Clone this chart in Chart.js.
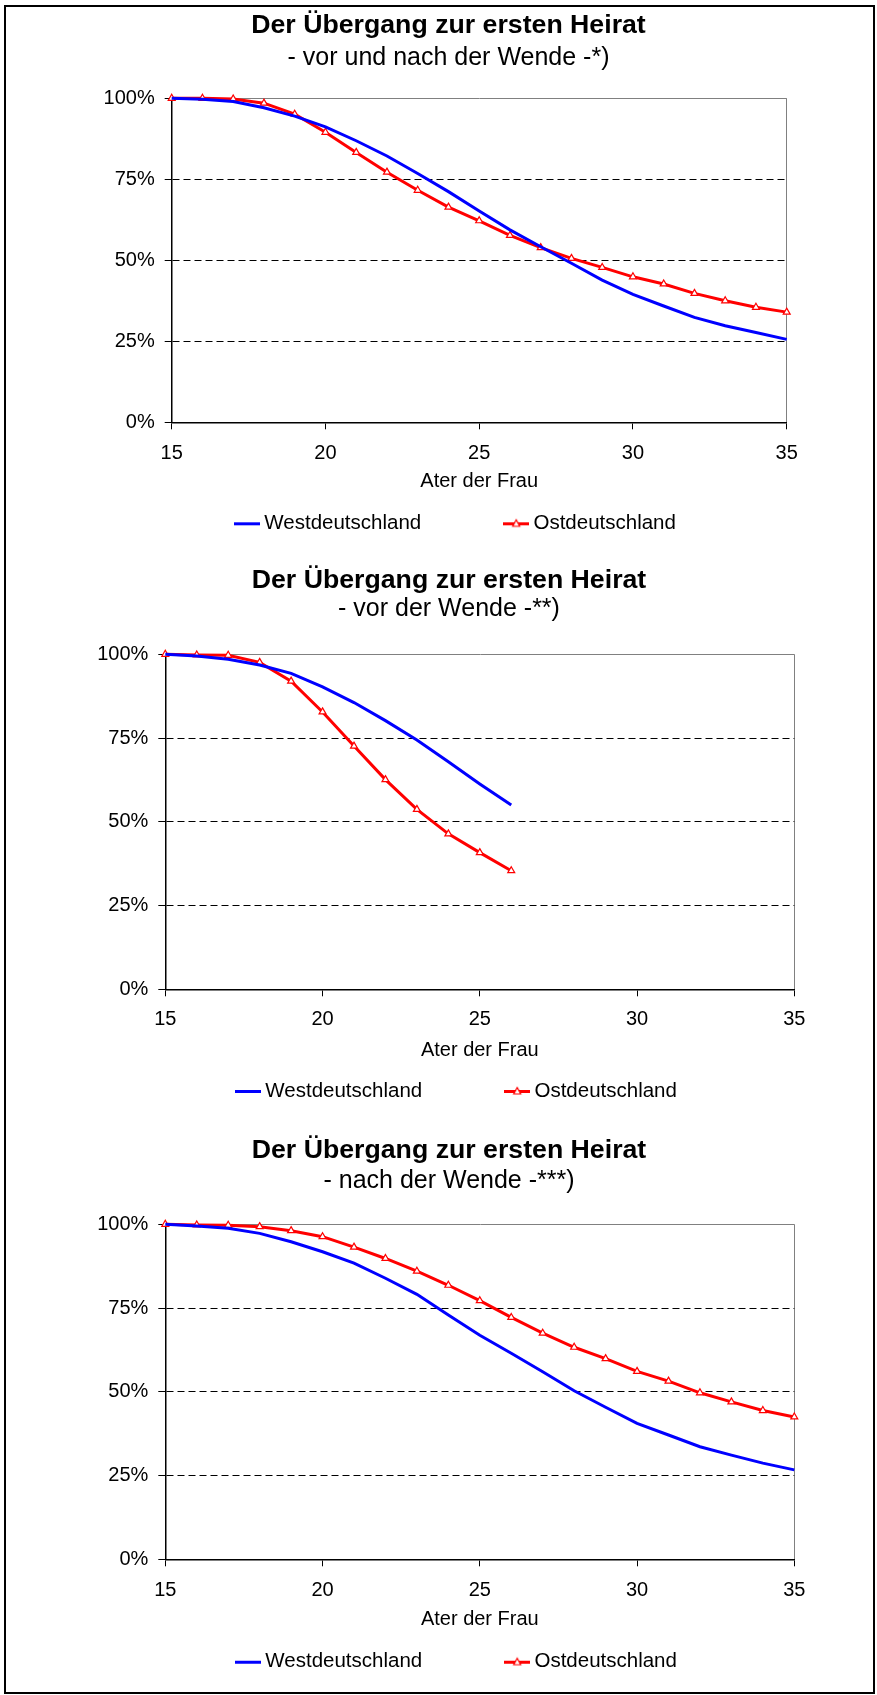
<!DOCTYPE html>
<html lang="de">
<head>
<meta charset="utf-8">
<title>Der Übergang zur ersten Heirat</title>
<script src="https://cdn.jsdelivr.net/npm/chart.js@4.4.1/dist/chart.umd.min.js"></script>
<style>
  html, body { margin: 0; padding: 0; background: #fff; }
  #page { position: relative; width: 877px; height: 1695px; overflow: hidden; background: #fff; }
  #frame { position: absolute; left: 4px; top: 5px; width: 871px; height: 1689px;
           border: 2px solid #000; box-sizing: border-box; pointer-events: none; }
  .panel { position: absolute; left: 0; width: 877px; }
  .panel canvas { display: block; }
</style>
</head>
<body>
<div id="page">
  <div class="panel" style="top:0px;height:620px"><canvas id="c1" width="877" height="620"></canvas></div>
  <div class="panel" style="top:550px;height:640px"><canvas id="c2" width="877" height="640"></canvas></div>
  <div class="panel" style="top:1120px;height:640px"><canvas id="c3" width="877" height="640"></canvas></div>
  <div id="frame"></div>
</div>
<script>
// ---- data -------------------------------------------------------------
const titleText = 'Der Übergang zur ersten Heirat';
const subtitles = ['- vor und nach der Wende -*)', '- vor der Wende -**)', '- nach der Wende -***)'];
const xAxisTitle = 'Ater der Frau';
const seriesNames = ['Westdeutschland', 'Ostdeutschland'];
const yTickValues = [0, 25, 50, 75, 100];
const xTickValues = [15, 20, 25, 30, 35];

// age of the woman (years)
const ages = [15, 16, 17, 18, 19, 20, 21, 22, 23, 24, 25, 26, 27, 28, 29, 30, 31, 32, 33, 34, 35];
const agesBefore = [15, 16, 17, 18, 19, 20, 21, 22, 23, 24, 25, 26];

// share still unmarried, in percent
const westAll  = [100, 99.7, 99.0, 97.1, 94.5, 91.2, 86.9, 82.2, 76.8, 71.2, 65.2, 59.4, 54.2, 49.1, 43.9, 39.5, 35.9, 32.4, 29.8, 27.7, 25.6];
const eastAll  = [100, 100, 99.8, 98.5, 95.1, 89.5, 83.3, 77.2, 71.6, 66.4, 62.2, 57.7, 53.9, 50.6, 47.8, 44.9, 42.7, 39.8, 37.5, 35.5, 34.0];

const westBefore = [100, 99.5, 98.5, 96.8, 94.3, 90.3, 85.6, 80.2, 74.4, 67.9, 61.3, 55.0];
const eastBefore = [100, 99.8, 99.7, 97.6, 92.0, 82.8, 72.6, 62.6, 53.7, 46.4, 40.8, 35.4];

const westAfter = [100, 99.5, 98.8, 97.3, 94.8, 91.8, 88.4, 83.9, 79.1, 72.9, 66.9, 61.5, 56.0, 50.3, 45.4, 40.6, 37.1, 33.6, 31.1, 28.7, 26.7];
const eastAfter = [100, 99.8, 99.7, 99.3, 98.1, 96.3, 93.2, 89.8, 86.0, 81.8, 77.2, 72.2, 67.5, 63.3, 59.9, 56.1, 53.2, 49.7, 47.0, 44.4, 42.5];

// ---- styling ----------------------------------------------------------
const BLUE = '#0000FF';
const RED = '#FF0000';
const FONT = "'Liberation Sans', Arial, Helvetica, sans-serif";
Chart.defaults.font.family = FONT;
Chart.defaults.color = '#000';

const TITLE_SIZE = 26.7;
const SUBTITLE_SIZE = 25;
const LABEL_SIZE = 20;
const LEGEND_SIZE = 20.5;
const LEGEND_PAD = 88;
const TICK_LEN = 7;
const Y_AXIS_W = 100;
const X_AXIS_H = 75;

// small legend swatches: a line, optionally with the triangle marker
function swatch(color, withMarker) {
  const c = document.createElement('canvas');
  c.width = 26; c.height = 12;
  const g = c.getContext('2d');
  g.fillStyle = color;
  g.fillRect(0, 5, 26, 3);
  if (withMarker) {
    g.beginPath();
    g.moveTo(13, 2.5); g.lineTo(16.5, 9); g.lineTo(9.5, 9); g.closePath();
    g.fillStyle = '#fff'; g.fill();
    g.strokeStyle = color; g.lineWidth = 1.2; g.stroke();
  }
  return c;
}
const swatches = [swatch(BLUE, false), swatch(RED, true)];

// puts the legend row at a fixed spot below the axis title
const legendPlacement = {
  id: 'legendPlacement',
  afterLayout(chart, args, opts) {
    const lg = chart.legend;
    if (!lg) return;
    const h = lg.bottom - lg.top;
    const w = lg.right - lg.left;
    lg.top = opts.top; lg.bottom = opts.top + h;
    lg.left = opts.centerX - w / 2; lg.right = opts.centerX + w / 2;
  }
};

function buildChart(canvasId, subtitle, xs, west, east, box) {
  const W = document.getElementById(canvasId).width;
  const padL = box.left - Y_AXIS_W;
  const padR = W - 2 * box.titleX + padL;
  const y2Width = 2 * box.titleX - padL - box.right;
  const titleLH = TITLE_SIZE * 1.2, subLH = SUBTITLE_SIZE * 1.2, lblLH = LABEL_SIZE * 1.2;
  const titlePadTop = box.titleY - titleLH / 2;
  const subPadTop = box.subtitleY - subLH / 2 - (box.titleY + titleLH / 2);
  const subPadBottom = box.top - box.subtitleY - subLH / 2;
  const tickPad = box.tickY - box.bottom - lblLH / 2 - TICK_LEN;
  const xTitlePadBottom = box.bottom + X_AXIS_H - lblLH / 2 - box.axisTitleY;
  const legendHeight = LEGEND_SIZE + LEGEND_PAD + 10;
  const padBottom = box.height - (box.bottom + X_AXIS_H + legendHeight);

  return new Chart(document.getElementById(canvasId), {
    type: 'line',
    plugins: [legendPlacement],
    data: {
      datasets: [
        {
          label: seriesNames[0],
          data: xs.map((a, i) => ({ x: a, y: west[i] })),
          yAxisID: 'y',
          borderColor: BLUE,
          backgroundColor: BLUE,
          borderWidth: 3,
          pointRadius: 0,
          pointHoverRadius: 0,
          tension: 0,
          fill: false,
          clip: false
        },
        {
          label: seriesNames[1],
          data: xs.map((a, i) => ({ x: a, y: east[i] })),
          yAxisID: 'y',
          borderColor: RED,
          backgroundColor: RED,
          borderWidth: 3,
          pointStyle: 'triangle',
          pointRadius: 4,
          pointBorderWidth: 1.2,
          pointBackgroundColor: '#fff',
          pointBorderColor: RED,
          tension: 0,
          fill: false,
          clip: false
        }
      ]
    },
    options: {
      responsive: false,
      animation: false,
      devicePixelRatio: 1,
      events: [],
      layout: { padding: { left: padL, right: padR, top: 0, bottom: padBottom } },
      plugins: {
        legendPlacement: { top: box.legendY - LEGEND_SIZE / 2 - LEGEND_PAD, centerX: box.legendX },
        title: {
          display: true,
          text: titleText,
          color: '#000',
          font: { size: TITLE_SIZE, weight: 'bold', family: FONT, lineHeight: 1.2 },
          padding: { top: titlePadTop, bottom: 0 }
        },
        subtitle: {
          display: true,
          text: subtitle,
          color: '#000',
          font: { size: SUBTITLE_SIZE, weight: 'normal', family: FONT, lineHeight: 1.2 },
          padding: { top: subPadTop, bottom: subPadBottom }
        },
        legend: {
          display: true,
          position: 'bottom',
          align: 'center',
          labels: {
            usePointStyle: true,
            pointStyleWidth: 14,
            padding: LEGEND_PAD,
            color: '#000',
            font: { size: LEGEND_SIZE, family: FONT },
            generateLabels: (chart) => chart.data.datasets.map((ds, i) => ({
              text: ds.label,
              datasetIndex: i,
              hidden: false,
              fillStyle: ds.borderColor,
              strokeStyle: ds.borderColor,
              lineWidth: 0,
              fontColor: '#000',
              pointStyle: swatches[i]
            }))
          }
        },
        tooltip: { enabled: false }
      },
      scales: {
        x: {
          type: 'linear',
          position: 'bottom',
          min: 15,
          max: 35,
          afterBuildTicks: (scale) => { scale.ticks = xTickValues.map(v => ({ value: v })); },
          afterFit: (scale) => { scale.height = X_AXIS_H; },
          ticks: {
            padding: tickPad,
            maxRotation: 0,
            autoSkip: false,
            color: '#000',
            font: { size: LABEL_SIZE, family: FONT }
          },
          grid: {
            drawOnChartArea: true,
            drawTicks: true,
            tickLength: TICK_LEN,
            tickColor: '#000',
            tickWidth: 1,
            tickBorderDash: [],
            lineWidth: 1,
            color: (ctx) => (ctx.tick && ctx.tick.value === 35) ? '#808080' : 'rgba(0,0,0,0)'
          },
          border: { display: true, color: '#000', width: 1.5 },
          title: {
            display: true,
            text: xAxisTitle,
            color: '#000',
            font: { size: LABEL_SIZE, family: FONT, lineHeight: 1.2 },
            padding: { top: 0, bottom: xTitlePadBottom }
          }
        },
        y: {
          type: 'linear',
          position: 'left',
          min: 0,
          max: 100,
          afterBuildTicks: (scale) => { scale.ticks = yTickValues.map(v => ({ value: v })); },
          afterFit: (scale) => { scale.width = Y_AXIS_W; },
          ticks: {
            padding: 10,
            color: '#000',
            font: { size: LABEL_SIZE, family: FONT },
            callback: (v) => v + '%'
          },
          grid: {
            drawOnChartArea: true,
            drawTicks: true,
            tickLength: TICK_LEN,
            tickColor: '#000',
            tickWidth: 1,
            tickBorderDash: [],
            lineWidth: 1,
            color: (ctx) => {
              const v = ctx.tick ? ctx.tick.value : -1;
              if (v === 0) return 'rgba(0,0,0,0)';
              if (v === 100) return '#808080';
              return '#000';
            }
          },
          border: {
            display: true,
            color: '#000',
            width: 1.5,
            dash: (ctx) => (ctx.tick && ctx.tick.value > 0 && ctx.tick.value < 100) ? [7, 4] : []
          }
        },
        // empty right-hand strip that keeps the titles centred on the page
        y2: {
          type: 'linear',
          position: 'right',
          display: true,
          min: 0,
          max: 100,
          afterFit: (scale) => { scale.width = y2Width; },
          ticks: { display: false },
          grid: { display: false, drawTicks: false },
          border: { display: false }
        }
      }
    }
  });
}

// panel geometry (pixels within each canvas)
buildChart('c1', subtitles[0], ages, westAll, eastAll, {
  height: 620, titleX: 448.5, legendX: 458,
  left: 171.7, right: 786.7, top: 98.3, bottom: 422.3,
  titleY: 25.5, subtitleY: 57.8, tickY: 453, axisTitleY: 481.7, legendY: 523.3
});
buildChart('c2', subtitles[1], agesBefore, westBefore, eastBefore, {
  height: 640, titleX: 449, legendX: 459,
  left: 165.3, right: 794.3, top: 104.3, bottom: 439.3,
  titleY: 30.3, subtitleY: 59, tickY: 469.2, axisTitleY: 500, legendY: 541
});
buildChart('c3', subtitles[2], ages, westAfter, eastAfter, {
  height: 640, titleX: 449, legendX: 459,
  left: 165.3, right: 794.3, top: 104.3, bottom: 439.3,
  titleY: 30.8, subtitleY: 60.8, tickY: 470, axisTitleY: 499.7, legendY: 541.7
});
</script>
</body>
</html>
